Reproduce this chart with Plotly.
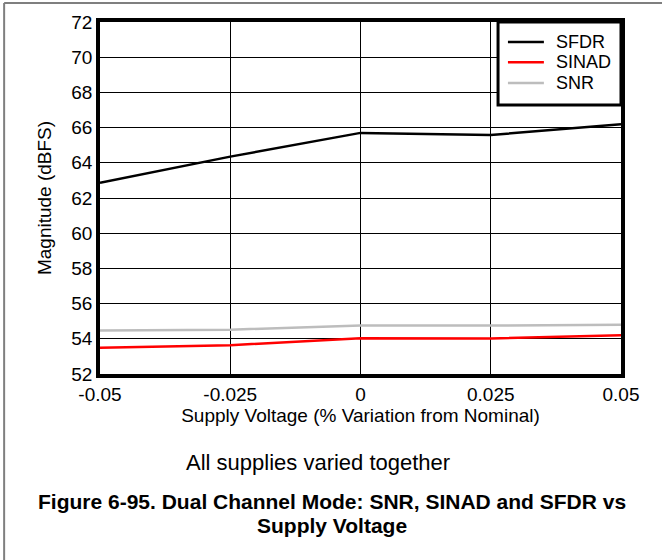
import plotly.graph_objects as go

# Supply variation (% from nominal) and measured dynamic performance (dBFS)
supply_variation = [-0.05, -0.025, 0, 0.025, 0.05]
sfdr = [62.86, 64.35, 65.70, 65.58, 66.19]
sinad = [53.49, 53.64, 54.03, 54.02, 54.20]
snr = [54.47, 54.52, 54.75, 54.75, 54.80]

series_names = ["SFDR", "SINAD", "SNR"]
series_colors = ["#000000", "#ff0000", "#bdbdbd"]

x_tick_vals = [-0.05, -0.025, 0, 0.025, 0.05]
x_tick_text = ["-0.05", "-0.025", "0", "0.025", "0.05"]
y_tick_vals = list(range(52, 73, 2))

caption_lines = ["Figure 6-95. Dual Channel Mode: SNR, SINAD and SFDR vs",
                 "Supply Voltage"]

FONT = "Liberation Sans, Arial, sans-serif"

fig = go.Figure()
for name, values, color in zip(series_names, [sfdr, sinad, snr], series_colors):
    fig.add_trace(go.Scatter(
        x=supply_variation, y=values, name=name, mode="lines",
        line=dict(color=color, width=2.5), showlegend=False,
    ))

axis_common = dict(
    showgrid=True, gridcolor="#000000", gridwidth=1,
    showline=True, linecolor="#000000", linewidth=3.5, mirror=True,
    ticks="", zeroline=False,
    tickfont=dict(family=FONT, size=19, color="#000000"),
)

fig.update_layout(
    width=662, height=560,
    margin=dict(l=100, r=41, t=22, b=186),
    paper_bgcolor="white", plot_bgcolor="white",
    font=dict(family=FONT, color="#000000"),
    xaxis=dict(
        range=[-0.05, 0.05], tickvals=x_tick_vals, ticktext=x_tick_text,
        title=dict(text="Supply Voltage (% Variation from Nominal)",
                   font=dict(family=FONT, size=19), standoff=4),
        **axis_common,
    ),
    yaxis=dict(
        range=[52, 72], tickvals=y_tick_vals,
        title=dict(text="Magnitude (dBFS)", font=dict(family=FONT, size=19),
                   standoff=16),
        **axis_common,
    ),
)

# Legend box in the upper-right corner of the plot area
fig.add_shape(type="rect", xref="paper", yref="paper",
              x0=0.764, x1=1.0, y0=0.764, y1=1.0,
              fillcolor="white", line=dict(color="#000000", width=3),
              layer="above")
legend_rows = [0.943, 0.886, 0.827]
for name, color, yrow in zip(series_names, series_colors, legend_rows):
    fig.add_shape(type="line", xref="paper", yref="paper",
                  x0=0.783, x1=0.852, y0=yrow, y1=yrow,
                  line=dict(color=color, width=2.5), layer="above")
    fig.add_annotation(text=name, xref="paper", yref="paper",
                       x=0.871, y=yrow, xanchor="left", yanchor="middle",
                       showarrow=False, font=dict(family=FONT, size=18))

# Page frame (top and left rule)
fig.add_shape(type="line", xref="paper", yref="paper",
              x0=-0.184, x1=1.08, y0=1.054, y1=1.054,
              line=dict(color="#7f7f7f", width=2))
fig.add_shape(type="line", xref="paper", yref="paper",
              x0=-0.184, x1=-0.184, y0=1.054, y1=-0.53,
              line=dict(color="#7f7f7f", width=2))

fig.add_annotation(
    text="All supplies varied together", xref="paper", yref="paper",
    x=0.418, y=-0.25, showarrow=False, xanchor="center", yanchor="middle",
    font=dict(family=FONT, size=22),
)
for line_text, ypos in zip(caption_lines, [-0.3636, -0.4318]):
    fig.add_annotation(
        text=f"<b>{line_text}</b>", xref="paper", yref="paper",
        x=0.445, y=ypos, showarrow=False,
        xanchor="center", yanchor="middle", align="center",
        font=dict(family=FONT, size=21),
    )

fig.write_html("out.html")
